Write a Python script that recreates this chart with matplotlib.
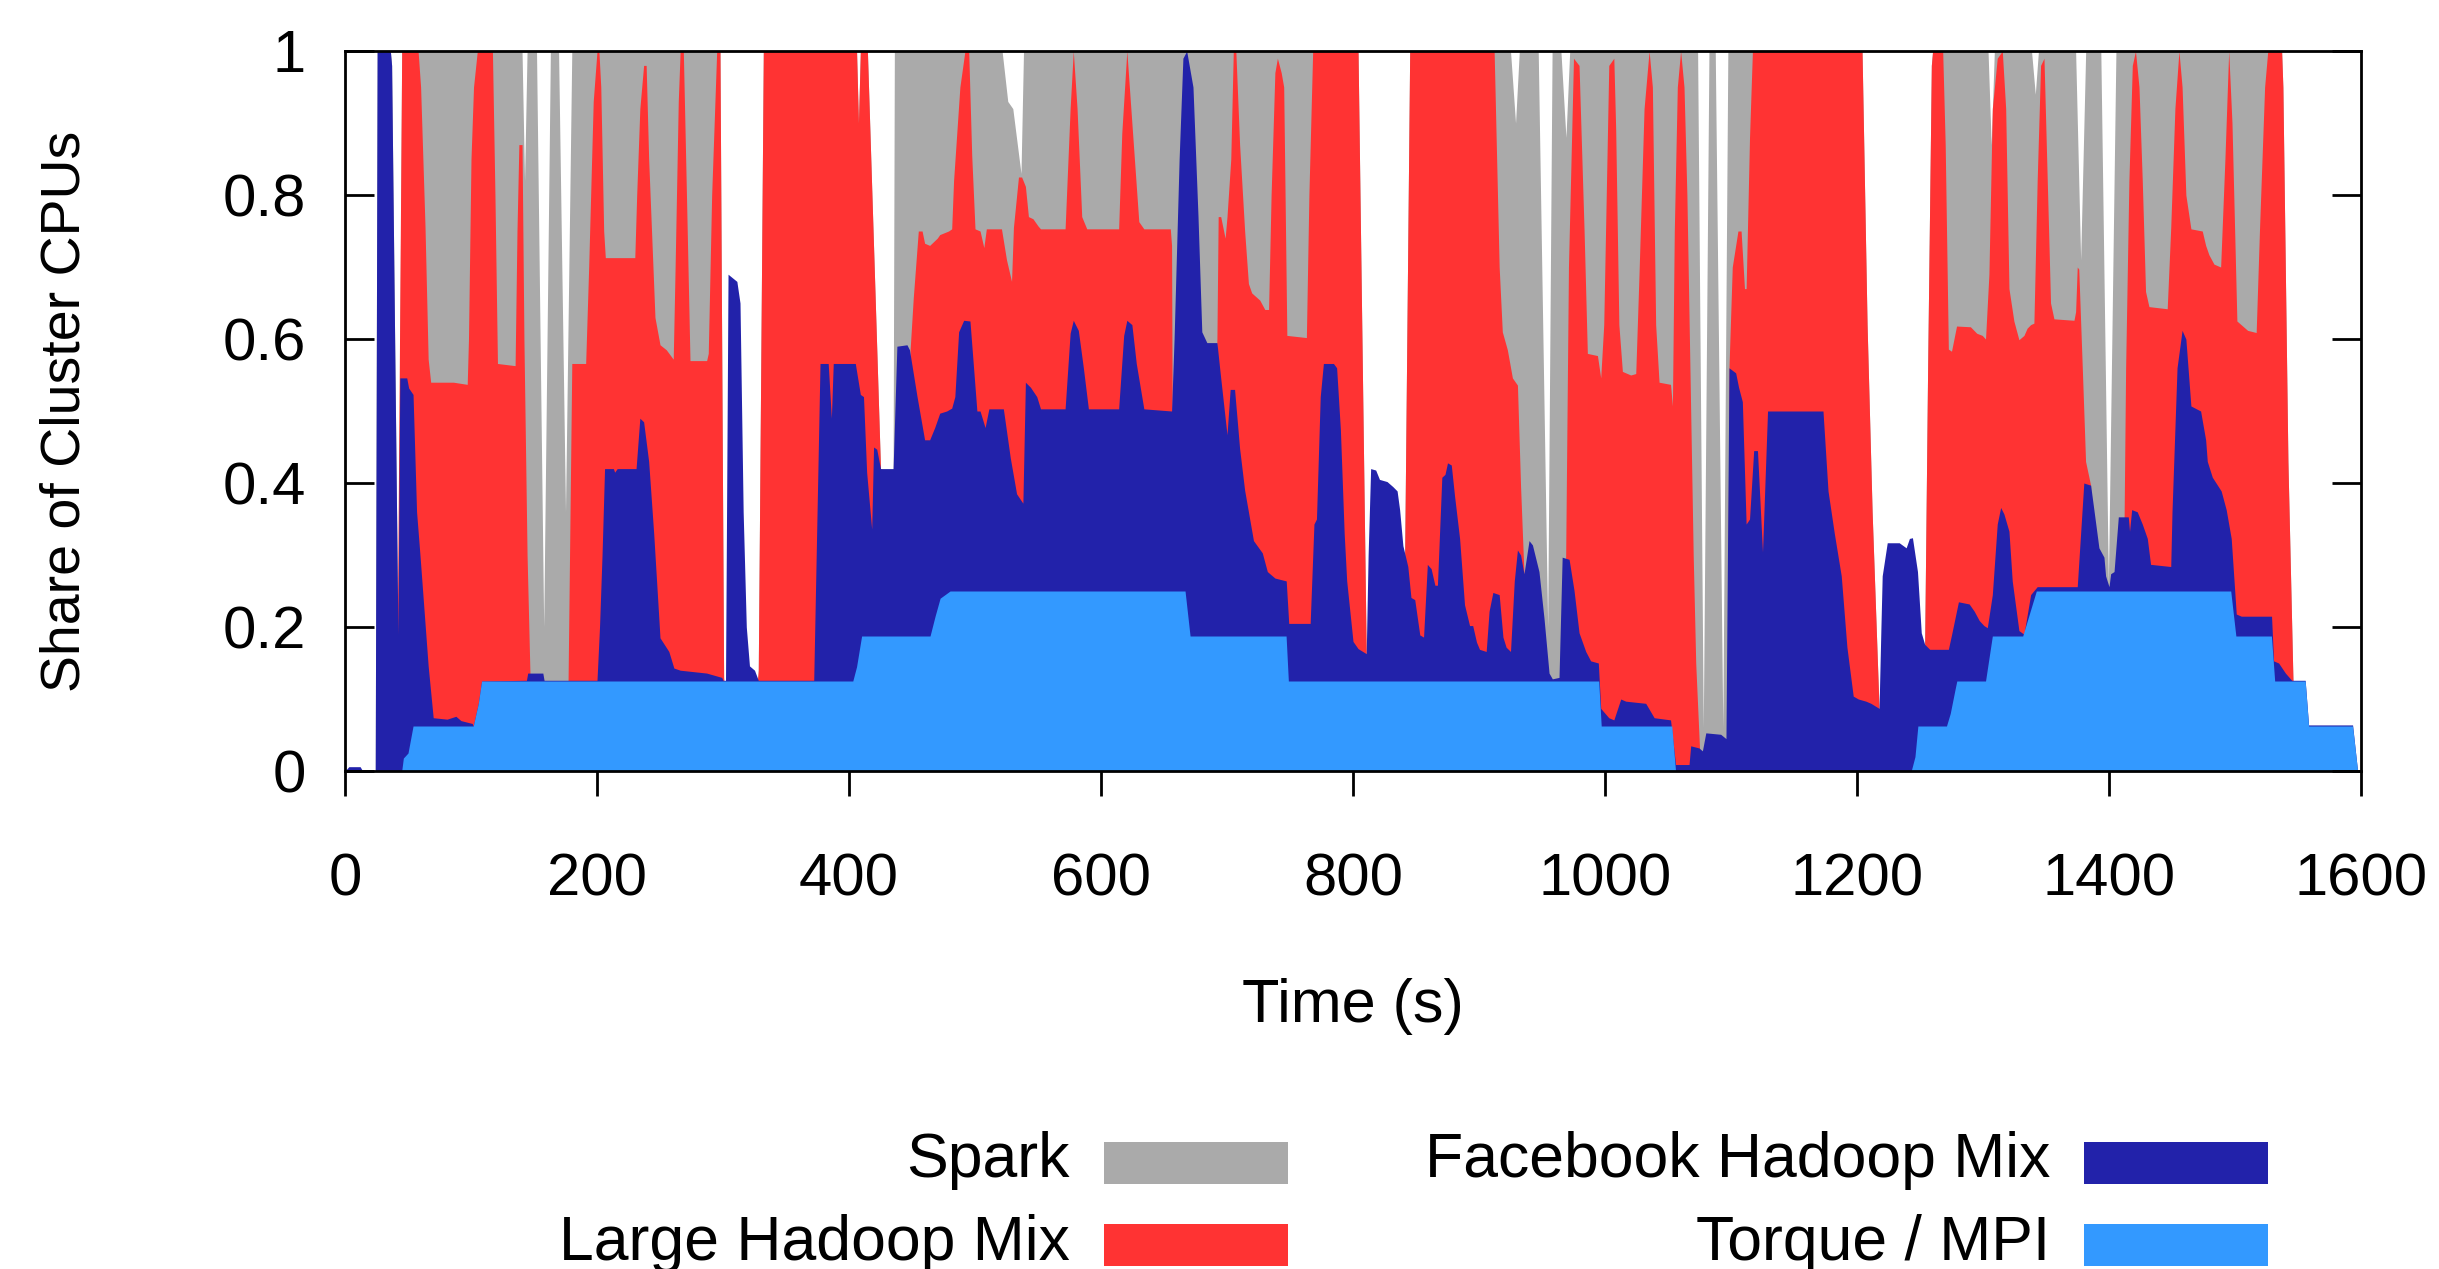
import numpy as np
import matplotlib
matplotlib.use("Agg")
import matplotlib.pyplot as plt
from matplotlib.patches import Rectangle

plt.rcParams['font.family'] = ['Liberation Sans', 'DejaVu Sans']

# cumulative tops of each stacked layer: (time s, share)
# Torque / MPI (bottom layer)
torque_pts = [(0, 0), (45, 0), (46.3, 0.018), (50, 0.025), (54, 0.0625), (101.8, 0.0625),
              (105.8, 0.094), (108.4, 0.125), (403, 0.125), (406, 0.145), (410, 0.1875),
              (464.3, 0.1875), (468.3, 0.215), (472.3, 0.24), (480.2, 0.25), (666.7, 0.25),
              (670.7, 0.1875), (746.9, 0.1875), (748.7, 0.125), (995, 0.125), (997, 0.0625),
              (1053, 0.0625), (1056, 0), (1243, 0), (1246, 0.02), (1248.3, 0.0625), (1271, 0.0625),
              (1274, 0.08), (1278, 0.115), (1279.2, 0.125), (1302, 0.125), (1307.4, 0.1875),
              (1331.5, 0.1875), (1342.3, 0.25), (1496.6, 0.25), (1500.7, 0.1875), (1528.9, 0.1875),
              (1531.5, 0.125), (1555.7, 0.125), (1558.4, 0.0625), (1593.3, 0.0625), (1597.3, 0),
              (1600, 0)]

# Torque + Facebook Hadoop Mix
facebook_pts = [(0, 0), (3, 0.006), (12, 0.006), (14, 0), (24, 0), (25.5, 1.0), (36, 1.0),
                (37, 0.98), (42, 0.19), (43.5, 0.546), (49, 0.546), (50.5, 0.532), (54, 0.523),
                (56.8, 0.36), (59.5, 0.30), (66, 0.146), (70, 0.074), (81, 0.072), (88, 0.076),
                (92, 0.07), (101, 0.066), (101.8, 0.0625), (105.8, 0.094), (108.4, 0.125),
                (144, 0.126), (145, 0.136), (157, 0.136), (158, 0.126), (200, 0.126), (202, 0.2),
                (204, 0.30), (206, 0.42), (213, 0.42), (214, 0.415), (216, 0.42), (231, 0.42),
                (234, 0.49), (237, 0.485), (241, 0.43), (245, 0.33), (250, 0.185), (257, 0.166),
                (261, 0.143), (266, 0.14), (287, 0.136), (299, 0.13), (300, 0.126), (302, 0.126),
                (304, 0.69), (311, 0.68), (313.5, 0.65), (316, 0.36), (318.5, 0.2), (321, 0.146),
                (325, 0.14), (328, 0.126), (372, 0.126), (377, 0.566), (383.5, 0.566), (386, 0.49),
                (387.5, 0.566), (405, 0.566), (409, 0.523), (411.5, 0.52), (414, 0.415),
                (418, 0.336), (419.5, 0.45), (422, 0.447), (425, 0.42), (435, 0.42), (438, 0.59),
                (446, 0.592), (448, 0.585), (454, 0.52), (456, 0.5), (460, 0.46), (464, 0.46),
                (468, 0.477), (472, 0.497), (477.5, 0.5), (481.5, 0.504), (484, 0.52), (487, 0.61),
                (491, 0.626), (496, 0.625), (501.5, 0.5), (504, 0.5), (508, 0.477), (511, 0.503),
                (522.5, 0.503), (528, 0.435), (533, 0.385), (538, 0.372), (540, 0.54),
                (544, 0.533), (549, 0.52), (552, 0.503), (571.5, 0.503), (575.5, 0.608),
                (578, 0.626), (582, 0.612), (586, 0.56), (590, 0.503), (614, 0.503), (618, 0.605),
                (620.5, 0.626), (624.5, 0.62), (628, 0.566), (634, 0.503), (656, 0.5), (658, 0.6),
                (662, 0.85), (665, 0.99), (668, 1.0), (673, 0.95), (677, 0.77), (680, 0.61),
                (684, 0.595), (692, 0.595), (695, 0.546), (700, 0.467), (702.5, 0.53), (706, 0.53),
                (710, 0.448), (714, 0.39), (721, 0.32), (728, 0.303), (732, 0.277), (738, 0.268),
                (747, 0.264), (749, 0.205), (766, 0.205), (769, 0.343), (771, 0.35), (774, 0.52),
                (776.5, 0.566), (784.5, 0.566), (787, 0.56), (790, 0.474), (793, 0.33),
                (795, 0.264), (800, 0.18), (804, 0.17), (810.5, 0.163), (812, 0.3), (814, 0.42),
                (818, 0.418), (821, 0.405), (827, 0.402), (831.6, 0.395), (835, 0.389),
                (837, 0.363), (839.6, 0.313), (843.5, 0.284), (846, 0.241), (849, 0.238),
                (853, 0.189), (856, 0.186), (859, 0.287), (862, 0.281), (865, 0.258), (867, 0.258),
                (870.5, 0.408), (873, 0.412), (875, 0.428), (878, 0.425), (880.6, 0.382),
                (884.6, 0.323), (888.5, 0.231), (892.5, 0.202), (895, 0.202), (898, 0.179),
                (900.4, 0.169), (905.7, 0.166), (908, 0.222), (911, 0.248), (916, 0.245),
                (919, 0.186), (921.5, 0.172), (925, 0.166), (928, 0.264), (930.5, 0.307),
                (933, 0.3), (935.7, 0.274), (939.7, 0.32), (942.4, 0.314), (947.6, 0.277),
                (951.6, 0.212), (955.6, 0.136), (958.2, 0.128), (963.5, 0.13), (966, 0.297),
                (971.5, 0.294), (975.4, 0.251), (979.4, 0.192), (984.7, 0.166), (988.6, 0.153),
                (994.7, 0.15), (996.6, 0.087), (1003, 0.074), (1007, 0.071), (1012.5, 0.1),
                (1016.4, 0.097), (1032.3, 0.094), (1039, 0.074), (1052, 0.071), (1056, 0.009),
                (1066.7, 0.009), (1068, 0.035), (1074.6, 0.032), (1077.3, 0.028), (1080, 0.053),
                (1091.8, 0.051), (1096, 0.045), (1098.4, 0.56), (1103.7, 0.553), (1106, 0.533),
                (1109, 0.513), (1112, 0.343), (1114.7, 0.35), (1118, 0.445), (1121, 0.445),
                (1125, 0.304), (1129, 0.5), (1173, 0.5), (1177, 0.389), (1182, 0.33),
                (1187.5, 0.271), (1192, 0.172), (1197, 0.104), (1201, 0.1), (1207, 0.097),
                (1211, 0.094), (1217.5, 0.087), (1219, 0.2), (1220, 0.271), (1224, 0.317),
                (1233.5, 0.317), (1239, 0.31), (1241.6, 0.323), (1244, 0.324), (1248, 0.277),
                (1251, 0.192), (1253.7, 0.176), (1257.7, 0.169), (1272.5, 0.169), (1275, 0.189),
                (1280.5, 0.235), (1289, 0.232), (1293, 0.222), (1297, 0.209), (1300.7, 0.202),
                (1303.4, 0.199), (1307.4, 0.245), (1311.3, 0.343), (1314, 0.366), (1316.6, 0.357),
                (1320.6, 0.333), (1323.2, 0.264), (1328.5, 0.195), (1332.5, 0.19), (1337.8, 0.245),
                (1343, 0.256), (1374.8, 0.256), (1380, 0.4), (1385.4, 0.397), (1388, 0.363),
                (1392, 0.31), (1396, 0.297), (1397.3, 0.271), (1400, 0.256), (1401.3, 0.274),
                (1404, 0.277), (1407.4, 0.353), (1415.3, 0.353), (1416.3, 0.333), (1418, 0.363),
                (1422.4, 0.36), (1426.4, 0.343), (1430.4, 0.323), (1433, 0.287), (1449, 0.284),
                (1450, 0.36), (1454, 0.56), (1458, 0.612), (1461, 0.6), (1465, 0.507),
                (1472.7, 0.5), (1476.7, 0.46), (1478, 0.43), (1482, 0.408), (1489, 0.389),
                (1493, 0.363), (1497, 0.323), (1501, 0.218), (1505, 0.215), (1529, 0.215),
                (1530.6, 0.153), (1534.6, 0.15), (1540, 0.136), (1545, 0.126), (1555.7, 0.126),
                (1558.4, 0.064), (1593.3, 0.064), (1597.3, 0), (1600, 0)]

# Torque + Facebook + Large Hadoop Mix
large_pts = [(0, 0), (40, 0), (41.5, 0.19), (45, 1.0), (58, 1.0), (60, 0.95), (63.5, 0.756),
             (66, 0.572), (68, 0.54), (86, 0.54), (97, 0.537), (98, 0.6), (100, 0.85), (102, 0.95),
             (105, 1.0), (117, 1.0), (119, 0.8), (121, 0.566), (135, 0.563), (136.5, 0.75),
             (138, 0.87), (140.5, 0.87), (142, 0.6), (144.5, 0.3), (147, 0.12), (177, 0.12),
             (180, 0.566), (191, 0.566), (193.4, 0.7), (197, 0.93), (200, 1.0), (201.5, 1.0),
             (203, 0.95), (205.3, 0.75), (206.6, 0.713), (230, 0.713), (231.5, 0.8), (234, 0.92),
             (237, 0.98), (239, 0.98), (241, 0.85), (246, 0.63), (250, 0.592), (255, 0.585),
             (260.5, 0.572), (262, 0.7), (264.5, 0.93), (266, 1.0), (268.5, 1.0), (271, 0.8),
             (273.8, 0.57), (287, 0.57), (288.3, 0.58), (291, 0.8), (295, 1.0), (297.6, 1.0),
             (300.5, 0.13), (302, 0.1), (326, 0.1), (328, 0.14), (332, 1.0), (406, 1.0),
             (407.5, 0.9), (409, 1.0), (414.6, 1.0), (420, 0.7), (425, 0.42), (448, 0.4),
             (448.5, 0.585), (451, 0.657), (455, 0.75), (458, 0.75), (460, 0.733), (464, 0.73),
             (470, 0.74), (472, 0.745), (479, 0.75), (481.5, 0.753), (483, 0.82), (488, 0.95),
             (492, 1.0), (495, 1.0), (497.4, 0.855), (500, 0.753), (504, 0.75), (507, 0.727),
             (509, 0.753), (521, 0.753), (525, 0.71), (529, 0.68), (530.5, 0.755), (534.5, 0.825),
             (537, 0.825), (540, 0.812), (542.4, 0.77), (546, 0.767), (550, 0.757), (552, 0.753),
             (571.5, 0.753), (575.5, 0.92), (578, 1.0), (581, 0.92), (584.7, 0.77),
             (588.7, 0.753), (614, 0.753), (616.5, 0.886), (620.5, 1.0), (624.5, 0.9),
             (630, 0.763), (634, 0.753), (655, 0.753), (656, 0.73), (656.5, 0.5), (690, 0.5),
             (692, 0.6), (693, 0.77), (695, 0.77), (698.5, 0.74), (700, 0.77), (703, 0.85),
             (705, 1.0), (707, 1.0), (710, 0.87), (714, 0.75), (717, 0.677), (719.6, 0.664),
             (726, 0.654), (730, 0.641), (733, 0.641), (735, 0.8), (738, 0.97), (740, 0.99),
             (743, 0.97), (745, 0.95), (747.5, 0.605), (763, 0.602), (765, 0.8), (768, 1.0),
             (804, 1.0), (810.5, 0.163), (841, 0.3), (845, 1.0), (912, 1.0), (914, 0.85),
             (916, 0.7), (918.5, 0.61), (922.5, 0.585), (926.5, 0.546), (930.5, 0.536),
             (933, 0.395), (935.7, 0.274), (937, 0.12), (966, 0.12), (968.8, 0.3), (971, 0.7),
             (975, 0.99), (979.4, 0.98), (983.4, 0.75), (986, 0.58), (994, 0.577),
             (996.6, 0.546), (999, 0.62), (1003, 0.98), (1007, 0.99), (1008.5, 0.89),
             (1011, 0.62), (1013.8, 0.555), (1020.4, 0.55), (1024.4, 0.552), (1027, 0.69),
             (1031, 0.92), (1035, 1.0), (1037.6, 0.95), (1040.2, 0.62), (1042.9, 0.54),
             (1052, 0.537), (1053.5, 0.507), (1055, 0.75), (1057.4, 0.95), (1060, 1.0),
             (1062.7, 0.95), (1065, 0.8), (1068, 0.5), (1070, 0.3), (1072, 0.15), (1075, 0.032),
             (1076, 0.02), (1097, 0.02), (1098.4, 0.56), (1101, 0.7), (1105.5, 0.75),
             (1108, 0.75), (1110.7, 0.67), (1112, 0.67), (1114.7, 0.88), (1117, 1.0),
             (1204, 1.0), (1208, 0.62), (1212, 0.36), (1217.5, 0.087), (1219, 0.05),
             (1253, 0.05), (1253.7, 0.176), (1256, 0.55), (1259, 0.98), (1260, 1.0), (1268, 1.0),
             (1270, 0.87), (1272.5, 0.586), (1275, 0.583), (1279, 0.618), (1290, 0.617),
             (1295, 0.608), (1299.4, 0.605), (1302, 0.6), (1304.7, 0.69), (1307.4, 0.92),
             (1311.3, 0.99), (1315.3, 1.0), (1318, 0.92), (1320.6, 0.67), (1324.5, 0.625),
             (1328.5, 0.599), (1332.5, 0.605), (1335, 0.615), (1337.8, 0.62), (1340.4, 0.622),
             (1343, 0.82), (1345.7, 0.98), (1348.4, 0.99), (1351, 0.82), (1353.6, 0.65),
             (1356.3, 0.628), (1372.2, 0.626), (1373.5, 0.638), (1374.8, 0.7), (1376, 0.697),
             (1378.8, 0.56), (1381.4, 0.43), (1385.4, 0.397), (1386, 0.2), (1411, 0.2),
             (1412, 0.353), (1413.2, 0.56), (1415.8, 0.82), (1418.5, 0.98), (1421, 1.0),
             (1423.8, 0.95), (1426.4, 0.82), (1429, 0.666), (1431.7, 0.645), (1446.2, 0.642),
             (1449, 0.755), (1452.3, 0.92), (1455.5, 1.0), (1458, 0.95), (1461, 0.8),
             (1465, 0.753), (1474, 0.75), (1476.7, 0.73), (1479.3, 0.717), (1483.3, 0.704),
             (1488.6, 0.7), (1492, 0.85), (1495, 1.0), (1497.6, 0.9), (1501.5, 0.625),
             (1510, 0.612), (1516.8, 0.609), (1519.5, 0.755), (1523.5, 0.95), (1526, 1.0),
             (1537, 1.0), (1538, 0.95), (1542, 0.43), (1546, 0.126), (1547, 0), (1600, 0)]

# everything, Spark on top (white where the cluster was not full)
spark_pts = [(0, 0), (24, 0), (25.5, 1.0), (36, 1.0), (37, 0.98), (42, 0.19), (45, 1.0),
             (140.5, 1.0), (142.5, 0.82), (144.5, 1.0), (152, 1.0), (157.7, 0.2), (163, 1.0),
             (169.5, 1.0), (175, 0.36), (180, 1.0), (297.6, 1.0), (300.5, 0.13), (301, 0),
             (327, 0), (328, 0.14), (332, 1.0), (406, 1.0), (407.5, 0.9), (409, 1.0),
             (414.6, 1.0), (420, 0.7), (425, 0.42), (426, 0.3), (434, 0.3), (435, 0.42),
             (436, 1.0), (521.5, 1.0), (526, 0.93), (530, 0.92), (536.5, 0.83), (538.5, 1.0),
             (804, 1.0), (810.5, 0.163), (811, 0.1), (840, 0.1), (841, 0.3), (845, 1.0),
             (925, 1.0), (929, 0.9), (932, 1.0), (947, 1.0), (954.5, 0.2), (958, 1.0),
             (965, 1.0), (969, 0.88), (972, 1.0), (1073.5, 1.0), (1078, 0.06), (1082.5, 1.0),
             (1087.5, 1.0), (1093.5, 0.06), (1097.5, 1.0), (1204, 1.0), (1208, 0.62),
             (1212, 0.36), (1217.5, 0.087), (1218, 0), (1253, 0), (1253.7, 0.176), (1256, 0.55),
             (1259, 0.98), (1260, 1.0), (1304, 1.0), (1306.5, 0.87), (1309, 1.0), (1338.5, 1.0),
             (1341.5, 0.94), (1344, 1.0), (1373.5, 1.0), (1377.5, 0.71), (1381.5, 1.0),
             (1393.5, 1.0), (1399.5, 0.26), (1405.5, 1.0), (1537, 1.0), (1538, 0.95),
             (1542, 0.43), (1546, 0.126), (1547, 0), (1600, 0)]

labels = ["Spark", "Large Hadoop Mix", "Facebook Hadoop Mix", "Torque / MPI"]
colors = ["#aaaaaa", "#ff3333", "#2222aa", "#3399ff"]
layers = [spark_pts, large_pts, facebook_pts, torque_pts]

W, H = 2439, 1269
fig = plt.figure(figsize=(W / 100, H / 100), dpi=100)
ax = fig.add_axes([345 / W, 1 - 771 / H, (2361 - 345) / W, 720 / H])

# draw back to front: each layer filled from 0 up to its cumulative top
for pts, c in zip(layers, colors):
    t, v = np.array(pts).T
    ax.fill_between(t, 0, v, color=c, lw=0)

ax.set_xlim(0, 1600)
ax.set_ylim(0, 1)
ax.set_xticks(range(0, 1601, 200))
ax.set_yticks([0, 0.2, 0.4, 0.6, 0.8, 1])
ax.set_yticklabels(["0", "0.2", "0.4", "0.6", "0.8", "1"])
ax.tick_params(axis="y", direction="in", length=21, width=2, left=True, right=True,
               labelsize=43, pad=28)
ax.tick_params(axis="x", direction="out", length=18, width=2, top=False,
               labelsize=43, pad=41)
for s in ax.spines.values():
    s.set_linewidth(2)
    s.set_zorder(5)

fig.text(66 / W, 1 - 411 / H, "Share of Cluster CPUs", rotation=90, fontsize=40,
         ha="center", va="center")
fig.text(1353 / W, 1 - 1022 / H, "Time (s)", fontsize=44, ha="center", va="baseline")

# legend, two columns, text on the left of each swatch
legend_pos = [(1070, 1104, 1177, 1142), (1070, 1104, 1260, 1224),
              (2050, 2084, 1177, 1142), (2050, 2084, 1260, 1224)]
for lab, c, (tx, bx, base, by) in zip(labels, colors, legend_pos):
    fig.text(tx / W, 1 - base / H, lab, fontsize=45, ha="right", va="baseline")
    fig.add_artist(Rectangle((bx / W, 1 - (by + 42) / H), 184 / W, 42 / H,
                             transform=fig.transFigure, color=c, lw=0))

fig.savefig("out.png", dpi=100)
